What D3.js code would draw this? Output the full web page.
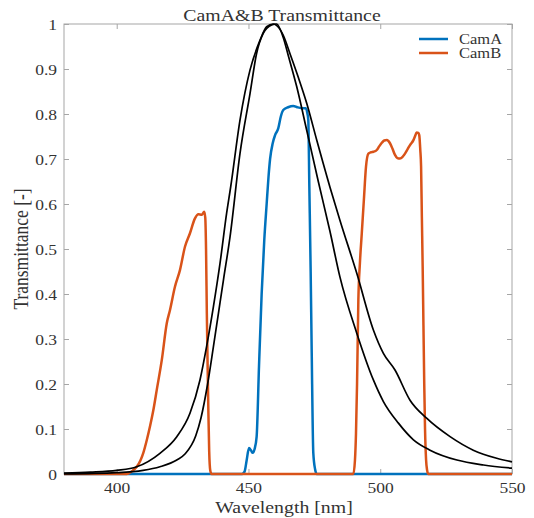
<!DOCTYPE html>
<html>
<head>
<meta charset="utf-8">
<script src="https://cdn.jsdelivr.net/npm/d3@7"></script>
<style>
  html, body { margin: 0; padding: 0; background: #fff; }
  svg { display: block; }
  text { font-family: "Liberation Serif", "Times New Roman", serif; fill: #333; }
</style>
</head>
<body>
<div id="chart"></div>
<script>
// ---- data ----
const seriesNames = ["CamA", "CamB"];
const xTicks = [400, 450, 500, 550];
const yTicks = [0, 0.1, 0.2, 0.3, 0.4, 0.5, 0.6, 0.7, 0.8, 0.9, 1];
const yTickLabels = ["0", "0.1", "0.2", "0.3", "0.4", "0.5", "0.6", "0.7", "0.8", "0.9", "1"];

const camA = [
  [380,0],[447.5,0],[448.5,0.005],[449.3,0.03],[450.2,0.058],[451,0.052],[451.6,0.047],[452.3,0.055],
  [453.1,0.083],[454,0.24],[455,0.40],[456,0.52],[456.9,0.60],[457.6,0.66],[458.2,0.70],[459.2,0.735],
  [460.1,0.753],[461.3,0.768],[462.3,0.795],[463.2,0.809],[465,0.815],[467,0.818],[468.5,0.815],
  [470.2,0.813],[471.8,0.813],[472.4,0.80],[472.7,0.787],[473.1,0.638],[473.6,0.45],[474,0.27],
  [474.6,0.047],[475.3,0.01],[475.9,0],[550,0]
];

const camB = [
  [380,0],[403.8,0],[405.5,0.005],[407.6,0.016],[409,0.03],[410.1,0.047],[411.4,0.075],[412.6,0.105],
  [414,0.145],[415.2,0.187],[417.1,0.253],[419,0.335],[420.2,0.364],[422.1,0.416],[424,0.453],
  [425.9,0.505],[427.8,0.535],[429.7,0.568],[431,0.577],[432.3,0.576],[433.2,0.583],[433.6,0.57],
  [433.9,0.50],[434.2,0.357],[434.5,0.24],[434.8,0.135],[435.1,0.05],[435.5,0.008],[436,0],
  [489.8,0],[490.4,0.03],[490.8,0.09],[491.2,0.2],[491.7,0.387],[492.3,0.47],[493,0.535],[493.8,0.61],
  [494.6,0.683],[495.5,0.712],[496.5,0.715],[497.4,0.716],[498.7,0.72],[499.6,0.728],[500.6,0.736],
  [501.5,0.741],[502.5,0.742],[503.7,0.735],[504.7,0.722],[505.6,0.709],[506.5,0.702],[507.5,0.701],
  [508.5,0.705],[509.4,0.712],[510.4,0.722],[511.3,0.731],[512.6,0.742],[513.3,0.752],[513.8,0.759],
  [514.4,0.758],[514.8,0.753],[515.2,0.72],[515.5,0.683],[515.8,0.57],[516.1,0.461],[516.4,0.33],
  [516.7,0.2],[517,0.1],[517.4,0.031],[517.8,0.008],[518.2,0],[550,0]
];

const blackBroad = [
  [380,0.002],[390,0.004],[400,0.008],[407.6,0.016],[416.4,0.046],[422.8,0.083],[427.8,0.135],
  [431.6,0.209],[434.1,0.283],[436.7,0.372],[439.2,0.468],[441.7,0.579],[443.3,0.64],[446.8,0.787],
  [450.6,0.898],[454.4,0.964],[456.9,0.994],[459.4,1.0],[461,0.995],[463.2,0.975],[466,0.93],
  [469,0.88],[472.1,0.824],[476,0.74],[480.9,0.638],[484.7,0.564],[491.1,0.446],[497.4,0.32],
  [501.2,0.268],[505.6,0.231],[511.3,0.164],[517.6,0.124],[526.5,0.083],[535.3,0.053],
  [544.2,0.035],[550,0.027]
];

const blackNarrow = [
  [380,0],[400,0.003],[410,0.008],[416.4,0.016],[422.8,0.031],[426,0.045],[430,0.085],[432,0.125],
  [434.5,0.2],[436.7,0.283],[438.6,0.357],[440.5,0.431],[443,0.527],[446.8,0.713],[450.6,0.846],
  [453.1,0.935],[455.6,0.979],[458.8,0.998],[460.7,1.0],[463.2,0.97],[465.1,0.93],[468.3,0.861],
  [472.1,0.764],[476.5,0.65],[480.9,0.54],[484.7,0.438],[491.1,0.313],[497.4,0.209],[501.2,0.161],
  [506.9,0.113],[512.6,0.076],[518.9,0.053],[529.1,0.031],[539.2,0.02],[550,0.013]
];

// ---- layout ----
const W = 534, H = 518;
const m = {left: 64, right: 22, top: 24, bottom: 44};
const iw = W - m.left - m.right, ih = H - m.top - m.bottom;
const SX = 1.25; // horizontal glyph stretch seen in reference

const colors = {CamA: "#0072BD", CamB: "#D95319"};
const axisColor = "#a6a6a6";

const svg = d3.select("#chart").append("svg").attr("width", W).attr("height", H);
const g = svg.append("g").attr("transform", `translate(${m.left},${m.top})`);

const x = d3.scaleLinear().domain([380, 550]).range([0, iw]);
const y = d3.scaleLinear().domain([0, 1]).range([ih, 0]);

const line = d3.line().x(d => x(d[0])).y(d => y(d[1])).curve(d3.curveMonotoneX);

// box
g.append("rect").attr("x", 0).attr("y", 0).attr("width", iw).attr("height", ih)
  .attr("fill", "none").attr("stroke", axisColor).attr("stroke-width", 1);

// axes
const TL = 5;
const xb = g.append("g").attr("transform", `translate(0,${ih})`)
  .call(d3.axisBottom(x).tickValues(xTicks).tickSizeInner(-TL).tickSizeOuter(0).tickPadding(TL + 8));
const xt = g.append("g")
  .call(d3.axisTop(x).tickValues(xTicks).tickSizeInner(-TL).tickSizeOuter(0).tickFormat(""));
const yl = g.append("g")
  .call(d3.axisLeft(y).tickValues(yTicks).tickSizeInner(-TL).tickSizeOuter(0)
    .tickFormat((d, i) => yTickLabels[i]).tickPadding(0));
const yr = g.append("g").attr("transform", `translate(${iw},0)`)
  .call(d3.axisRight(y).tickValues(yTicks).tickSizeInner(-TL).tickSizeOuter(0).tickFormat(""));

[xb, xt, yl, yr].forEach(a => {
  a.select(".domain").remove();
  a.selectAll(".tick line").attr("stroke", axisColor);
  a.selectAll("text").attr("font-size", 14).attr("fill", "#333")
    .attr("font-family", '"Liberation Serif", serif');
});
xb.selectAll("text").attr("dy", null).attr("y", 0)
  .attr("transform", `translate(0,19) scale(${SX},1)`);
yl.selectAll("text").attr("x", null).attr("dy", null)
  .attr("transform", `translate(-7,5) scale(${SX},1)`);

// series
g.append("path").datum(camA).attr("d", line).attr("fill", "none")
  .attr("stroke", colors.CamA).attr("stroke-width", 2.5).attr("stroke-linejoin", "round");
g.append("path").datum(camB).attr("d", line).attr("fill", "none")
  .attr("stroke", colors.CamB).attr("stroke-width", 2.5).attr("stroke-linejoin", "round");
[blackBroad, blackNarrow].forEach(s => {
  g.append("path").datum(s).attr("d", line).attr("fill", "none")
    .attr("stroke", "#000").attr("stroke-width", 1.7).attr("stroke-linejoin", "round");
});

// title & labels
svg.append("text").attr("transform", `translate(${m.left + iw / 2 - 6},21) scale(1.2,1)`)
  .attr("text-anchor", "middle").attr("font-size", 16.5).attr("fill", "#222").text("CamA&B Transmittance");
svg.append("text").attr("transform", `translate(${m.left + iw / 2 - 4},513) scale(1.2,1)`)
  .attr("text-anchor", "middle").attr("font-size", 16.5).attr("fill", "#333").text("Wavelength [nm]");
svg.append("text").attr("transform", `translate(28,${m.top + ih / 2}) scale(1.2,1) rotate(-90)`)
  .attr("text-anchor", "middle").attr("font-size", 17.5).attr("fill", "#333").text("Transmittance [-]");

// legend
const leg = svg.append("g");
seriesNames.forEach((n, i) => {
  const yy = 39 + i * 14;
  leg.append("line").attr("x1", 419).attr("x2", 448).attr("y1", yy).attr("y2", yy)
    .attr("stroke", colors[n]).attr("stroke-width", 2.5);
  leg.append("text").attr("transform", `translate(459,${yy + 4.5}) scale(1.18,1)`)
    .attr("font-size", 14).attr("fill", "#222").text(n);
});
</script>
</body>
</html>
